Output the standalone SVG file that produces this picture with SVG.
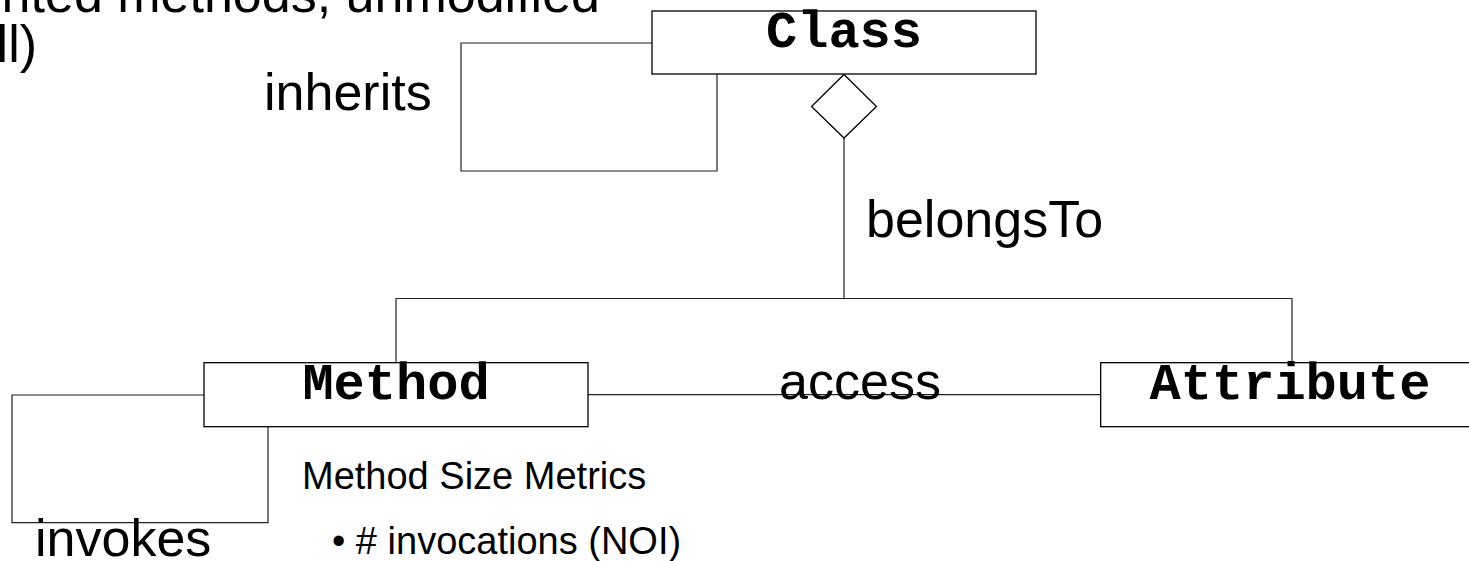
<svg xmlns="http://www.w3.org/2000/svg" width="1469" height="561" viewBox="0 0 1469 561">
<style>
.box{fill:#fff;stroke:#000;stroke-width:1.3}
.ln{fill:none;stroke:#222;stroke-width:1.2}
.mono{font-family:"Liberation Mono","Courier New",monospace;font-weight:bold;font-size:52px;fill:#000;text-anchor:middle}
.lbl{font-family:"Liberation Sans",Arial,sans-serif;font-size:52px;fill:#000}
.sm{font-family:"Liberation Sans",Arial,sans-serif;font-size:38px;fill:#000}
</style>
<rect width="1469" height="561" fill="#fff"/>
<g id="notes">
<text class="lbl" x="600" y="12" text-anchor="end">mented methods, unmodified</text>
<text class="lbl" x="37" y="62" text-anchor="end">ll)</text>
</g>
<g id="connectors">
<path class="ln" d="M652,43 H461 V171 H717 V74"/>
<path class="ln" d="M204,395 H12 V522.7 H268 V426.7"/>
<path class="ln" d="M844,138 V298.5"/>
<path class="ln" d="M396,362.7 V298.5 H1292 V362.7"/>
<path class="ln" d="M588,394.7 H1100.7"/>
<polygon class="box" points="844,74.5 876.5,106.5 844,138 811.5,106.5"/>
<text class="lbl" x="264" y="110">inherits</text>
<text class="lbl" x="866" y="237">belongsTo</text>
<text class="lbl" x="860" y="399" text-anchor="middle">access</text>
<text class="lbl" x="35" y="556">invokes</text>
</g>
<g id="class">
<rect class="box" x="652" y="11" width="384" height="63"/>
<text class="mono" x="844" y="47">Class</text>
</g>
<g id="method">
<rect class="box" x="204" y="362.7" width="384" height="64"/>
<text class="mono" x="396" y="399">Method</text>
</g>
<g id="attribute">
<rect class="box" x="1100.7" y="362.7" width="380" height="64"/>
<text class="mono" x="1290" y="399">Attribute</text>
</g>
<g id="metrics">
<text class="sm" x="302" y="489">Method Size Metrics</text>
<text class="sm" x="332" y="554">• # invocations (NOI)</text>
</g>
</svg>
